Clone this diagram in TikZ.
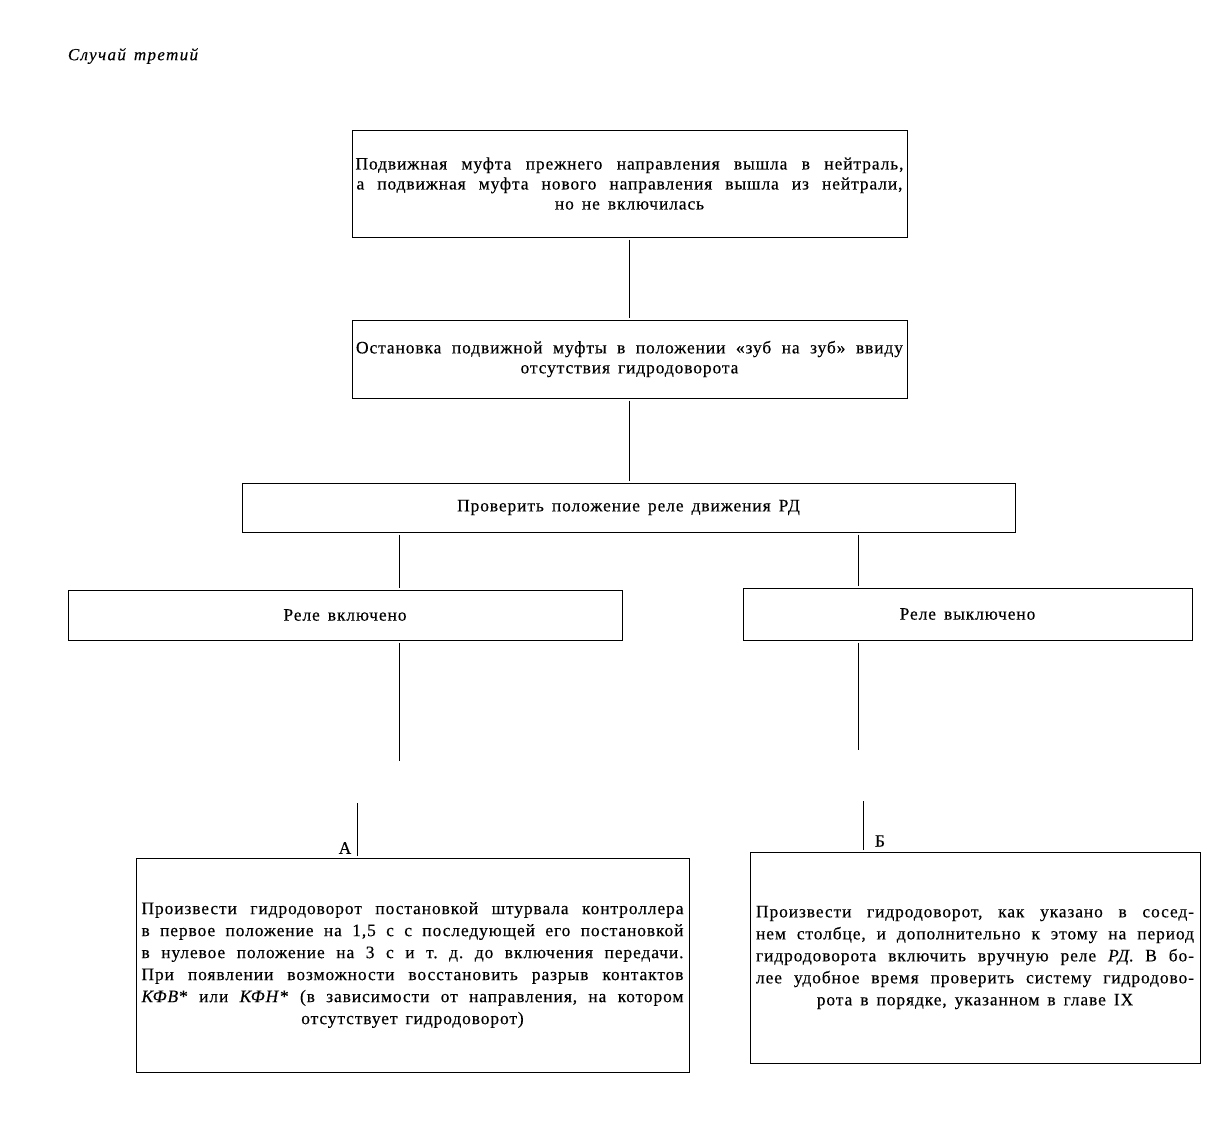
\documentclass[tikz,border=0pt]{standalone}
\usepackage{fontspec}
\setmainfont{Liberation Serif}
\newfontfamily\lsfont[LetterSpace=5,FakeBold=0.3]{Liberation Serif}
\newfontfamily\titfont[LetterSpace=8,FakeBold=0.3]{Liberation Serif}
\newcommand\jline[2]{\makebox[#1][s]{#2}}
\newcommand\wsp{\spaceskip=8pt plus 30pt minus 2pt\relax}
\frenchspacing
\begin{document}
\begin{tikzpicture}[x=1pt,y=-1pt,
  box/.style={draw, line width=1pt, inner sep=0pt, align=center,
    font=\lsfont\fontsize{17.5}{20}\selectfont\wsp},
  bigbox/.style={box, font=\lsfont\fontsize{17.5}{22}\selectfont\wsp},
  conn/.style={line width=0.9pt, shorten <=2pt, shorten >=2pt},
  lbl/.style={font=\lsfont\fontsize{17.5}{18}\selectfont, inner sep=0pt}]
\useasboundingbox[fill=white] (0,0) rectangle (1222,1122);

\node[font=\titfont\itshape\fontsize{17}{18}\selectfont\wsp, inner sep=0pt] (title) at (133,56) {Случай третий};

\node[box, minimum width=555pt, minimum height=107pt] (b1) at (629.5,183.5)
  {\jline{548pt}{Подвижная муфта прежнего направления вышла в нейтраль,}\\
   \jline{546pt}{а подвижная муфта нового направления вышла из нейтрали,}\\
   но не включилась};

\node[box, minimum width=555pt, minimum height=78pt] (b2) at (629.5,359)
  {\jline{547pt}{Остановка подвижной муфты в положении «зуб на зуб» ввиду}\\
   отсутствия гидродоворота};

\node[box, minimum width=773pt, minimum height=49pt] (b3) at (628.5,507.5)
  {Проверить положение реле движения РД};

\node[box, minimum width=554pt, minimum height=50pt] (b4) at (345,615)
  {Реле включено};

\node[box, minimum width=449pt, minimum height=52pt] (b5) at (967.5,614)
  {Реле выключено};

\node[bigbox, minimum width=553pt, minimum height=214pt] (b6) at (412.5,965)
  {\jline{542pt}{Произвести гидродоворот постановкой штурвала контроллера}\\
   \jline{542pt}{в первое положение на 1,5 с с последующей его постановкой}\\
   \jline{542pt}{в нулевое положение на 3 с и т. д. до включения передачи.}\\
   \jline{542pt}{При появлении возможности восстановить разрыв контактов}\\
   \jline{542pt}{\textit{КФВ}* или \textit{КФН}* (в зависимости от направления, на котором}\\
   отсутствует гидродоворот)};

\node[bigbox, minimum width=450pt, minimum height=211pt] (b7) at (975,957.5)
  {\jline{438pt}{Произвести гидродоворот, как указано в сосед-}\\
   \jline{438pt}{нем столбце, и дополнительно к этому на период}\\
   \jline{438pt}{гидродоворота включить вручную реле \textit{РД}. В бо-}\\
   \jline{438pt}{лее удобное время проверить систему гидродово-}\\
   рота в порядке, указанном в главе IX};

\coordinate (cl) at (399.5,0);
\coordinate (cr) at (858,0);
\coordinate (la) at (399.5,761);
\coordinate (lb) at (357,803);
\coordinate (ra) at (858,750);
\coordinate (rb) at (863,801);

\draw[conn] (b1.south) -- (b2.north);
\draw[conn] (b2.south) -- (b2.south |- b3.north);
\draw[conn] (b3.south -| cl) -- (b4.north -| cl);
\draw[conn] (b3.south -| cr) -- (b5.north -| cr);
\draw[conn, shorten >=0pt] (b4.south -| cl) -- (la);
\draw[conn, shorten <=0pt] (lb) -- (b6.north -| lb);
\draw[conn, shorten >=0pt] (b5.south -| cr) -- (ra);
\draw[conn, shorten <=0pt] (rb) -- (b7.north -| rb);

\node[lbl] (lA) at (345,848) {А};
\node[lbl] (lB) at (880,841) {Б};
\end{tikzpicture}
\end{document}
